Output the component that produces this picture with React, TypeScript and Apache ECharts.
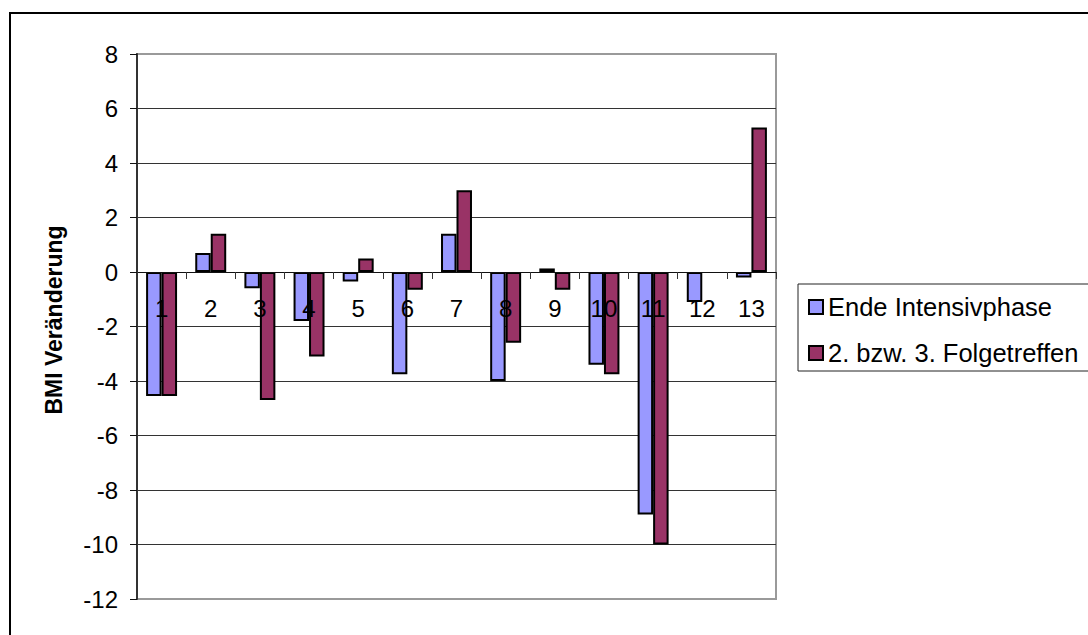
import React, { useEffect, useRef } from "react";
import * as echarts from "echarts";

// Participants 1–13
const categories = ["1", "2", "3", "4", "5", "6", "7", "8", "9", "10", "11", "12", "13"];

// BMI change at the end of the intensive phase
const endeIntensivphase = [-4.55, 0.7, -0.6, -1.8, -0.35, -3.75, 1.4, -4.0, 0.13, -3.4, -8.9, -1.1, -0.2];

// BMI change at the 2nd / 3rd follow-up meeting (no value for participant 12)
const folgetreffen: (number | null)[] = [-4.55, 1.4, -4.7, -3.1, 0.5, -0.65, 3.0, -2.6, -0.65, -3.75, -10, null, 5.3];

const seriesNames = ["Ende Intensivphase", "2. bzw. 3. Folgetreffen"];
const yMin = -12;
const yMax = 8;
const yStep = 2;

const FONT = "'Liberation Sans', Arial, Helvetica, sans-serif";

// Plot rectangle inside the 1088 x 635 canvas
const GRID_TOP = 54;
const GRID_BOTTOM = 36;
const GRID_HEIGHT = 635 - GRID_TOP - GRID_BOTTOM;

export default function App() {
  const ref = useRef<HTMLDivElement>(null);

  useEffect(() => {
    if (!ref.current) return;
    const chart = echarts.init(ref.current, undefined, { renderer: "svg" });

    const lineCount = (yMax - yMin) / yStep + 1;
    const splitColors = Array.from({ length: lineCount }, (_, i) =>
      i === 0 || i === lineCount - 1 ? "#9a9a9a" : "#333333"
    );

    // Distance from the plot's bottom edge up to the zero line, so the
    // category axis (with its labels) sits on y = 0.
    const zeroOffset = -(GRID_HEIGHT * (0 - yMin)) / (yMax - yMin);

    chart.setOption({
      animation: false,
      backgroundColor: "#ffffff",
      textStyle: { fontFamily: FONT },
      grid: {
        left: 137,
        right: 312,
        top: GRID_TOP,
        bottom: GRID_BOTTOM,
        outerBoundsMode: "none",
        containLabel: false,
        show: true,
        borderColor: "#9a9a9a",
        borderWidth: 2,
        backgroundColor: "transparent",
      },
      legend: {
        orient: "vertical",
        left: 798,
        top: 284,
        padding: [10, 140, 5, 10],
        itemWidth: 14,
        itemHeight: 14,
        itemGap: 20,
        borderColor: "#222",
        borderWidth: 1,
        icon: "rect",
        textStyle: { fontFamily: FONT, fontSize: 25.5, color: "#000", lineHeight: 24 },
        data: seriesNames,
      },
      xAxis: {
        type: "category",
        data: categories,
        position: "bottom",
        offset: zeroOffset,
        z: 5,
        axisLine: { show: true, onZero: false, lineStyle: { color: "#111", width: 1 } },
        axisTick: { show: true, length: 7, lineStyle: { color: "#333" } },
        axisLabel: { fontFamily: FONT, fontSize: 24, color: "#000", margin: 24 },
        splitLine: { show: false },
      },
      yAxis: {
        type: "value",
        min: yMin,
        max: yMax,
        interval: yStep,
        axisLine: { show: true, lineStyle: { color: "#333", width: 2 } },
        axisTick: { show: true, length: 7, lineStyle: { color: "#111" } },
        axisLabel: { fontFamily: FONT, fontSize: 24, color: "#000", margin: 19 },
        splitLine: { show: true, lineStyle: { color: splitColors, width: 1 } },
      },
      series: [
        {
          name: seriesNames[0],
          type: "bar",
          data: endeIntensivphase,
          barGap: "0%",
          barCategoryGap: "37%",
          itemStyle: { color: "#9999FF", borderColor: "#000", borderWidth: 2 },
        },
        {
          name: seriesNames[1],
          type: "bar",
          data: folgetreffen.map((v) => (v === null ? "-" : v)),
          barGap: "0%",
          barCategoryGap: "37%",
          itemStyle: { color: "#993366", borderColor: "#000", borderWidth: 2 },
        },
      ],
      graphic: [
        {
          type: "rect",
          shape: { x: 10, y: 13, width: 1200, height: 800 },
          style: { fill: "none", stroke: "#000", lineWidth: 2 },
          silent: true,
          z: 10,
        },
        {
          type: "text",
          x: 54,
          y: 320,
          rotation: Math.PI / 2,
          style: {
            text: "BMI Veränderung",
            fontFamily: FONT,
            fontSize: 23,
            fontWeight: "bold",
            fill: "#000",
            align: "center",
            verticalAlign: "middle",
          },
        },
      ],
    });

    return () => chart.dispose();
  }, []);

  return (
    <div
      ref={ref}
      style={{ position: "fixed", left: 0, top: 0, width: 1088, height: 635, background: "#fff" }}
    />
  );
}
